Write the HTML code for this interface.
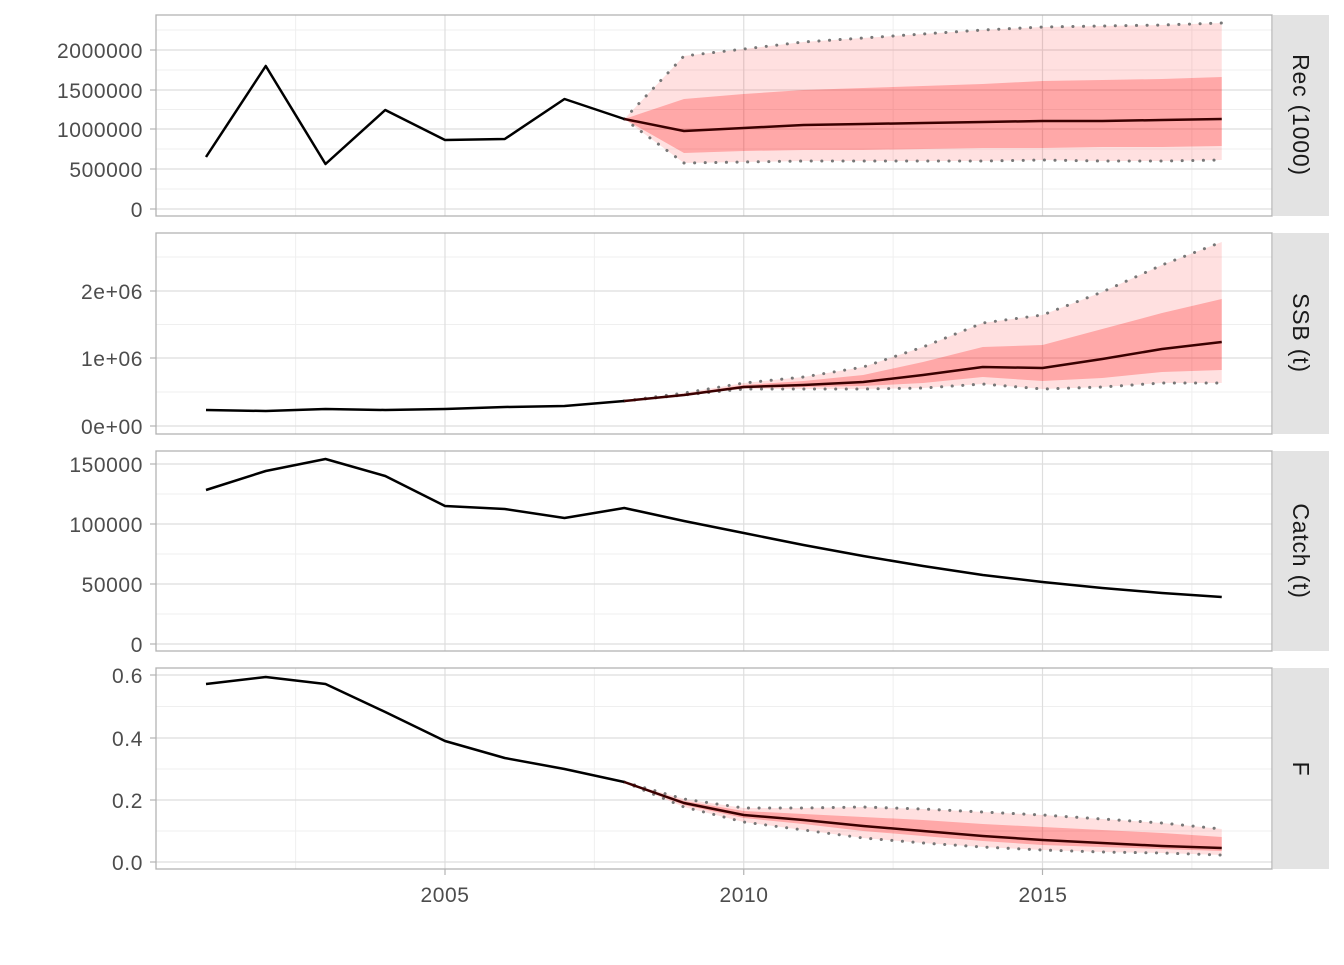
<!DOCTYPE html>
<html><head><meta charset="utf-8"><style>
html,body{margin:0;padding:0;background:#fff}
svg text{font-family:"Liberation Sans",sans-serif;font-size:21px;letter-spacing:0.6px;fill:#4d4d4d}
</style></head><body>
<svg id="s" width="1344" height="960" xmlns="http://www.w3.org/2000/svg">
<g id="g"></g>
<g text-anchor="end">
<text x="143" y="217">0</text><text x="143" y="177">500000</text><text x="143" y="137">1000000</text><text x="143" y="98">1500000</text><text x="143" y="58">2000000</text>
<text x="143" y="434">0e+00</text><text x="143" y="366">1e+06</text><text x="143" y="299">2e+06</text>
<text x="143" y="652">0</text><text x="143" y="592">50000</text><text x="143" y="532">100000</text><text x="143" y="472">150000</text>
<text x="143" y="870">0.0</text><text x="143" y="808">0.2</text><text x="143" y="746">0.4</text><text x="143" y="683">0.6</text>
</g>
<g text-anchor="middle">
<text x="445" y="902">2005</text><text x="744" y="902">2010</text><text x="1043" y="902">2015</text>
</g>
<g text-anchor="middle">
<text transform="translate(1293,115) rotate(90)" style="fill:#1a1a1a;font-size:23px;letter-spacing:0.8px">Rec (1000)</text>
<text transform="translate(1293,333) rotate(90)" style="fill:#1a1a1a;font-size:23px;letter-spacing:0.8px">SSB (t)</text>
<text transform="translate(1293,551) rotate(90)" style="fill:#1a1a1a;font-size:23px;letter-spacing:0.8px">Catch (t)</text>
<text transform="translate(1293,769) rotate(90)" style="fill:#1a1a1a;font-size:23px;letter-spacing:0.8px">F</text>
</g>
</svg>
<script>
const X=y=>206+(y-2001)*59.75;
const P=[[15,216],[233,434],[451,651],[668,869]];
const majors=[[209,169,129,90,50],[426,358,291],[644,584,524,464],[862,800,738,675]];
let h='';
P.forEach((p,i)=>{
 h+=`<rect x="156" y="${p[0]}" width="1116" height="${p[1]-p[0]}" fill="#fff"/>`;
 const m=majors[i];
 for(let k=0;k<m.length-1;k++){const y=(m[k]+m[k+1])/2;h+=`<line x1="156" x2="1272" y1="${y}" y2="${y}" stroke="#efefef" stroke-width="1"/>`;}
 const top=m[m.length-1],st=m[0]-m[1];
 if(top-st/2>p[0]) h+=`<line x1="156" x2="1272" y1="${top-st/2}" y2="${top-st/2}" stroke="#efefef"/>`;
 if(m[0]+st/2<p[1]) h+=`<line x1="156" x2="1272" y1="${m[0]+st/2}" y2="${m[0]+st/2}" stroke="#efefef"/>`;
 [2002.5,2007.5,2012.5,2017.5].forEach(y=>h+=`<line x1="${X(y)}" x2="${X(y)}" y1="${p[0]}" y2="${p[1]}" stroke="#efefef"/>`);
 m.forEach(y=>h+=`<line x1="156" x2="1272" y1="${y}" y2="${y}" stroke="#dedede" stroke-width="1.2"/>`);
 [2005,2010,2015].forEach(y=>h+=`<line x1="${X(y)}" x2="${X(y)}" y1="${p[0]}" y2="${p[1]}" stroke="#dedede" stroke-width="1.2"/>`);
 h+=`<rect x="1273" y="${p[0]}" width="56" height="${p[1]-p[0]}" fill="#e3e3e3"/>`;
 m.forEach(y=>h+=`<line x1="150" x2="156" y1="${y}" y2="${y}" stroke="#b3b3b3" stroke-width="1.2"/>`);
});
[2005,2010,2015].forEach(y=>h+=`<line x1="${X(y)}" x2="${X(y)}" y1="869" y2="875" stroke="#b3b3b3" stroke-width="1.2"/>`);
const pts=(a,s)=>a.map((v,k)=>X(s+k)+','+v).join(' ');
function bandp(up,lo,s,fill){const a=up.map((v,k)=>X(s+k)+','+v);const b=lo.map((v,k)=>X(s+k)+','+v).reverse();return `<polygon points="${a.join(' ')} ${b.join(' ')}" fill="${fill}"/>`;}
function line(a,s,c,w,d){return `<polyline points="${pts(a,s)}" fill="none" stroke="${c}" stroke-width="${w}" ${d?'stroke-dasharray="0.1,10.5" stroke-linecap="round"':''} stroke-linejoin="round"/>`;}
const O='rgba(255,0,0,0.12)',I='rgba(255,0,0,0.25)';
const dc='#777';
let ou=[119,56,49,42,38,34,30,27,26,25,23],ol=[119,163,162,161,161,161,161,160,161,161,160];
let iu=[119,99,94,90,88,86,84,81,80,79,77],il=[119,153,151,150,150,149,148,148,147,147,146];
h+=bandp(ou,ol,2008,O)+bandp(iu,il,2008,I)+line(ou,2008,dc,3,1)+line(ol,2008,dc,3,1);
h+=line([157,66,164,110,140,139,99,119],2001,'#000',2.5)+line([119,131,128,125,124,123,122,121,121,120,119],2008,'#3a0000',2.5);
ou=[401,393,383,377,367,347,323,315,292,265,242];ol=[401,395,389,389,389,388,384,389,387,383,383];
iu=[401,394,385,381,375,362,347,345,329,313,299];il=[401,395,388,387,386,383,377,381,378,372,370];
h+=bandp(ou,ol,2008,O)+bandp(iu,il,2008,I)+line(ou,2008,dc,3,1)+line(ol,2008,dc,3,1);
h+=line([410,411,409,410,409,407,406,401],2001,'#000',2.5)+line([401,395,387,385,382,375,367,368,359,349,342],2008,'#3a0000',2.5);
h+=line([490,471,459,476,506,509,518,508,521,533,545,556,566,575,582,588,593,597],2001,'#000',2.5);
ou=[782,799,808,808,807,809,812,815,819,823,829];ol=[782,807,822,830,838,843,847,850,852,853,855];
iu=[782,801,811,814,817,820,824,827,830,833,837];il=[782,805,818,824,831,836,841,845,847,849,851];
h+=bandp(ou,ol,2008,O)+bandp(iu,il,2008,I)+line(ou,2008,dc,3,1)+line(ol,2008,dc,3,1);
h+=line([684,677,684,712,741,758,769,782],2001,'#000',2.5)+line([782,803,815,820,826,831,836,840,843,846,848],2008,'#3a0000',2.5);
P.forEach(p=>{h+=`<rect x="156" y="${p[0]}" width="1116" height="${p[1]-p[0]}" fill="none" stroke="#b3b3b3" stroke-width="1.3"/>`;});
document.getElementById('g').innerHTML=h;
</script>
</body></html>
